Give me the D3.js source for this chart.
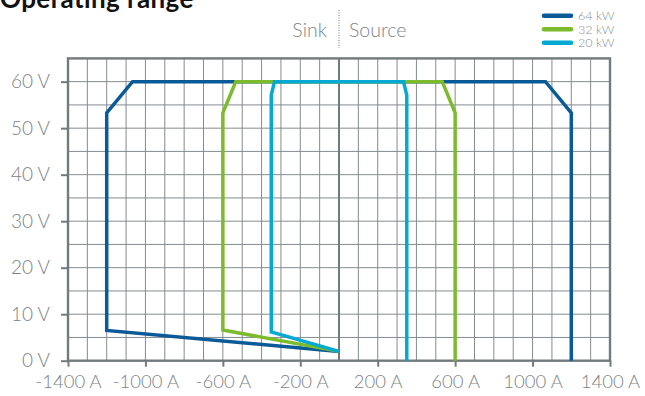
<!DOCTYPE html>
<html>
<head>
<meta charset="utf-8">
<script src="https://cdn.jsdelivr.net/npm/d3@7/dist/d3.min.js"></script>
<style>
  html, body { margin: 0; padding: 0; background: #fff; }
  svg { display: block; }
</style>
</head>
<body>
<svg id="chart" width="645" height="396"></svg>
<script>
// ---- Data (current in A, voltage in V) ----
const seriesNames = ["64 kW", "32 kW", "20 kW"];
const current64 = [1200, 1200, 1066.7, -1066.7, -1200, -1200, 0];
const voltage64 = [0, 53.3, 60, 60, 53.3, 6.5, 2];
const current32 = [600, 600, 533.3, -533.3, -600, -600, 0];
const voltage32 = [0, 53.3, 60, 60, 53.3, 6.6, 2];
const current20 = [350, 350, 333.3, -333.3, -350, -350, 0];
const voltage20 = [0, 57.1, 60, 60, 57.1, 6.2, 2];
const xTickValues = [-1400, -1000, -600, -200, 200, 600, 1000, 1400];
const yTickValues = [0, 10, 20, 30, 40, 50, 60];
const colors = ["#0b5a98", "#7cbb2c", "#05a9d1"];

const series = [
  { name: seriesNames[0], I: current64, V: voltage64, color: colors[0] },
  { name: seriesNames[1], I: current32, V: voltage32, color: colors[1] },
  { name: seriesNames[2], I: current20, V: voltage20, color: colors[2] }
];

const svg = d3.select("#chart");
const font = "Lato, 'Open Sans', sans-serif";
const textGray = "#7d8387";

const x = d3.scaleLinear().domain([-1400, 1400]).range([68, 610]);
const y = d3.scaleLinear().domain([0, 65]).range([360.7, 58.4]);

// grid
const grid = svg.append("g");
grid.selectAll("line.v").data(d3.range(-1300, 1400, 100).filter(d => d !== 0))
  .join("line")
  .attr("x1", d => x(d)).attr("x2", d => x(d))
  .attr("y1", y(65)).attr("y2", y(0))
  .attr("stroke", "#858b8f").attr("stroke-width", 1);
grid.selectAll("line.h").data(d3.range(5, 65, 5))
  .join("line")
  .attr("x1", x(-1400)).attr("x2", x(1400))
  .attr("y1", d => y(d)).attr("y2", d => y(d))
  .attr("stroke", "#858b8f").attr("stroke-width", 1);

// zero axis
svg.append("line")
  .attr("x1", x(0)).attr("x2", x(0)).attr("y1", y(65)).attr("y2", y(0))
  .attr("stroke", "#737a7e").attr("stroke-width", 2);

// border
svg.append("rect")
  .attr("x", x(-1400)).attr("y", y(65))
  .attr("width", x(1400) - x(-1400)).attr("height", y(0) - y(65))
  .attr("fill", "none").attr("stroke", "#737a7e").attr("stroke-width", 2.4);

// axes
const xAxis = svg.append("g")
  .attr("transform", `translate(0,${y(0)})`)
  .call(d3.axisBottom(x).tickValues(xTickValues).tickSize(6).tickPadding(8)
    .tickFormat(d => d + " A"));
xAxis.select(".domain").remove();
xAxis.selectAll(".tick line").attr("stroke", "#737a7e").attr("stroke-width", 2);
xAxis.selectAll(".tick text")
  .attr("fill", textGray).attr("font-family", font).attr("font-weight", 300)
  .attr("font-size", 18.5);

const yAxis = svg.append("g")
  .attr("transform", `translate(${x(-1400)},0)`)
  .call(d3.axisLeft(y).tickValues(yTickValues).tickSize(7).tickPadding(11)
    .tickFormat(d => d + " V"));
yAxis.select(".domain").remove();
yAxis.selectAll(".tick line").attr("stroke", "#737a7e").attr("stroke-width", 2);
yAxis.selectAll(".tick text")
  .attr("fill", textGray).attr("font-family", font).attr("font-weight", 300)
  .attr("font-size", 19);

// lines
const line = d3.line().x(d => x(d[0])).y(d => y(d[1]));
series.forEach(s => {
  const pts = s.I.map((c, i) => [c, s.V[i]]);
  svg.append("path")
    .attr("d", line(pts))
    .attr("fill", "none")
    .attr("stroke", s.color)
    .attr("stroke-width", 3.5)
    .attr("stroke-linejoin", "miter");
});

// title
svg.append("text")
  .attr("x", 0).attr("y", 8)
  .attr("font-family", font).attr("font-weight", 700).attr("font-size", 26)
  .attr("letter-spacing", 0.4)
  .attr("fill", "#111")
  .text("Operating range");

// Sink / Source
svg.append("text")
  .attr("x", 327).attr("y", 37).attr("text-anchor", "end")
  .attr("font-family", font).attr("font-weight", 300).attr("font-size", 19.5)
  .attr("fill", textGray).text("Sink");
svg.append("text")
  .attr("x", 349).attr("y", 37).attr("text-anchor", "start")
  .attr("font-family", font).attr("font-weight", 300).attr("font-size", 19.5)
  .attr("fill", textGray).text("Source");
svg.append("line")
  .attr("x1", x(0)).attr("x2", x(0)).attr("y1", 10).attr("y2", 48)
  .attr("stroke", "#6f767a").attr("stroke-width", 1)
  .attr("stroke-dasharray", "1,1.5");

// legend
const legend = svg.append("g");
series.forEach((s, i) => {
  const ly = 15.7 + i * 13.5;
  legend.append("line")
    .attr("x1", 544).attr("x2", 571).attr("y1", ly).attr("y2", ly)
    .attr("stroke", s.color).attr("stroke-width", 4.6)
    .attr("stroke-linecap", "round");
  legend.append("text")
    .attr("x", 578).attr("y", ly).attr("dy", "0.36em")
    .attr("font-family", font).attr("font-weight", 300).attr("font-size", 12.5)
    .attr("fill", "#8a9094").text(s.name);
});
</script>
</body>
</html>
